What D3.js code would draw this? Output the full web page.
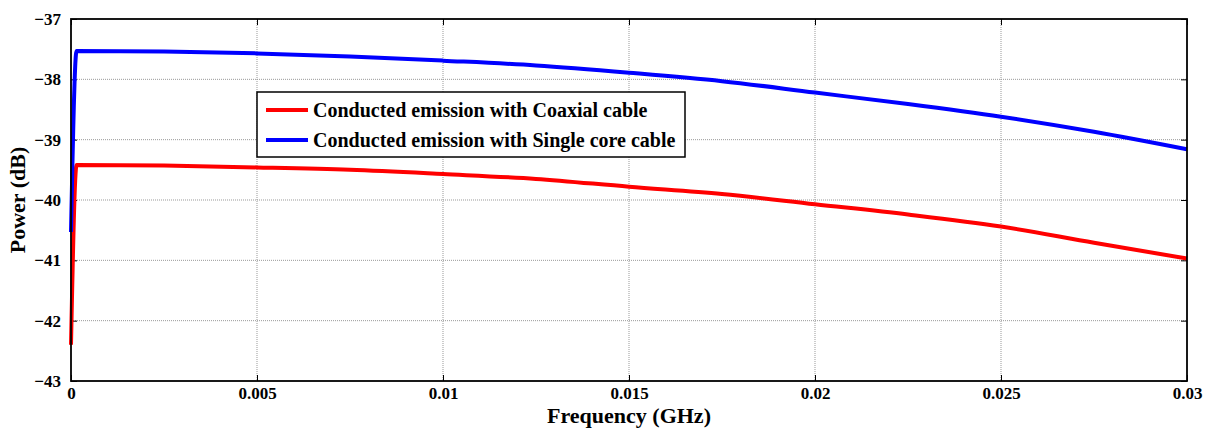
<!DOCTYPE html>
<html>
<head>
<meta charset="utf-8">
<script src="https://cdn.jsdelivr.net/npm/d3@7"></script>
<style>
  body { margin: 0; background: #fff; }
  svg { display: block; }
  svg text { font-family: "Liberation Serif", "Times New Roman", serif; font-weight: bold; fill: #000; }
</style>
</head>
<body>
<div id="chart"></div>
<script>
// frequency points (GHz)
const freq = [0, 0.00015, 0.0025, 0.005, 0.0075, 0.01, 0.0125, 0.015, 0.0175, 0.02, 0.0225, 0.025, 0.0275, 0.03];
// power (dB)
const coaxial = [-42.40, -39.42, -39.43, -39.46, -39.50, -39.57, -39.65, -39.78, -39.90, -40.07, -40.24, -40.44, -40.71, -40.97];
const singleCore = [-40.53, -37.53, -37.54, -37.57, -37.62, -37.69, -37.77, -37.89, -38.03, -38.22, -38.41, -38.62, -38.87, -39.16];

const xTicks = [0, 0.005, 0.01, 0.015, 0.02, 0.025, 0.03];
const xTickLabels = ["0", "0.005", "0.01", "0.015", "0.02", "0.025", "0.03"];
const yTicks = [-43, -42, -41, -40, -39, -38, -37];

const seriesNames = ["Conducted emission with Coaxial cable", "Conducted emission with Single core cable"];
const seriesColors = ["#ff0000", "#0000ff"];

const width = 1213, height = 428;
const margin = { top: 19, right: 26, bottom: 47, left: 71 };
const iw = width - margin.left - margin.right;
const ih = height - margin.top - margin.bottom;

const svg = d3.select("#chart").append("svg")
    .attr("width", width)
    .attr("height", height);

const g = svg.append("g").attr("transform", `translate(${margin.left},${margin.top})`);

const x = d3.scaleLinear().domain([0, 0.03]).range([0, iw]);
const y = d3.scaleLinear().domain([-43, -37]).range([ih, 0]);

// grid
g.append("g").selectAll("line")
    .data(xTicks.slice(1, -1))
    .join("line")
    .attr("x1", d => x(d)).attr("x2", d => x(d))
    .attr("y1", 0).attr("y2", ih)
    .attr("stroke", "#999").attr("stroke-width", 1)
    .attr("stroke-dasharray", "1,1");

g.append("g").selectAll("line")
    .data(yTicks.slice(1, -1))
    .join("line")
    .attr("x1", 0).attr("x2", iw)
    .attr("y1", d => y(d)).attr("y2", d => y(d))
    .attr("stroke", "#999").attr("stroke-width", 1)
    .attr("stroke-dasharray", "1,1");

// axes with inward ticks
g.append("g").attr("transform", `translate(0,${ih})`)
    .call(d3.axisBottom(x).tickValues(xTicks).tickFormat((d, i) => xTickLabels[i]).tickSizeInner(-6).tickSizeOuter(0).tickPadding(6))
    .call(a => a.select(".domain").remove());
g.append("g")
    .call(d3.axisTop(x).tickValues(xTicks).tickFormat("").tickSizeInner(-6).tickSizeOuter(0))
    .call(a => a.select(".domain").remove());
g.append("g")
    .call(d3.axisLeft(y).tickValues(yTicks).tickFormat(d3.format("d")).tickSizeInner(-6).tickSizeOuter(0).tickPadding(10))
    .call(a => a.select(".domain").remove());
g.append("g").attr("transform", `translate(${iw},0)`)
    .call(d3.axisRight(y).tickValues(yTicks).tickFormat("").tickSizeInner(-6).tickSizeOuter(0))
    .call(a => a.select(".domain").remove());

g.selectAll(".tick text").style("font-size", "17px");
g.selectAll(".tick line").attr("stroke", "#000");

// lines
const line = d3.line()
    .x((d, i) => x(freq[i]))
    .y(d => y(d))
    .curve(d3.curveMonotoneX);
[coaxial, singleCore].forEach((s, k) => {
  g.append("path")
      .datum(s)
      .attr("fill", "none")
      .attr("stroke", seriesColors[k])
      .attr("stroke-width", 4)
      .attr("stroke-linejoin", "round")
      .attr("d", line);
});

// frame
g.append("rect")
    .attr("width", iw).attr("height", ih)
    .attr("fill", "none").attr("stroke", "#000").attr("stroke-width", 1.8);

// legend
const lg = g.append("g").attr("transform", `translate(${257 - margin.left},${92 - margin.top})`);
lg.append("rect")
    .attr("width", 428).attr("height", 65)
    .attr("fill", "#fff").attr("stroke", "#000").attr("stroke-width", 1.5);
seriesNames.forEach((name, k) => {
  const ly = 18 + k * 30;
  lg.append("line")
      .attr("x1", 9).attr("x2", 51)
      .attr("y1", ly).attr("y2", ly)
      .attr("stroke", seriesColors[k]).attr("stroke-width", 4);
  lg.append("text")
      .attr("x", 56).attr("y", ly)
      .attr("dy", "0.33em")
      .style("font-size", "20px")
      .text(name);
});

// axis titles
svg.append("text")
    .attr("x", margin.left + iw / 2).attr("y", 423)
    .attr("text-anchor", "middle")
    .style("font-size", "22px")
    .text("Frequency (GHz)");
svg.append("text")
    .attr("transform", `translate(25,${margin.top + ih / 2}) rotate(-90)`)
    .attr("text-anchor", "middle")
    .style("font-size", "22px")
    .text("Power (dB)");
</script>
</body>
</html>
